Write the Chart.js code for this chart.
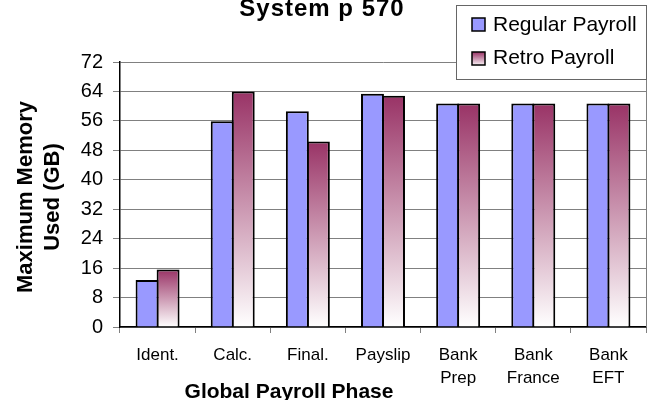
<!DOCTYPE html>
<html>
<head>
<meta charset="utf-8">
<script src="https://cdn.jsdelivr.net/npm/chart.js@4/dist/chart.umd.min.js"></script>
<style>
  html, body { margin: 0; padding: 0; background: #fff; }
  #wrap { width: 651px; height: 400px; }
</style>
</head>
<body>
<div id="wrap"><canvas id="memChart" width="651" height="400"></canvas></div>
<script>
// chart data
const phases = [['Ident.'], ['Calc.'], ['Final.'], ['Payslip'], ['Bank', 'Prep'], ['Bank', 'France'], ['Bank', 'EFT']];
const regularPayroll = [12.8, 55.9, 58.6, 63.4, 60.7, 60.7, 60.7];
const retroPayroll = [15.6, 64.0, 50.4, 62.8, 60.7, 60.7, 60.7];
const yTicks = [0, 8, 16, 24, 32, 40, 48, 56, 64, 72];

const FONT = '"Liberation Sans", Arial, sans-serif';
const REGULAR_COLOR = '#9999FF';
const RETRO_TOP = '#993366';

function retroGradient(c, top, bottom) {
  const g = c.createLinearGradient(0, top, 0, bottom);
  g.addColorStop(0, RETRO_TOP);
  g.addColorStop(1, '#FFFFFF');
  return g;
}

// title, axis titles, plot border and the legend box drawn on the canvas
const decorPlugin = {
  id: 'decor',
  afterDraw(chart) {
    const c = chart.ctx;
    const area = chart.chartArea;
    c.save();

    // right border of the plot area
    c.strokeStyle = '#808080';
    c.lineWidth = 1;
    c.beginPath();
    c.moveTo(area.right + 0.5, area.top);
    c.lineTo(area.right + 0.5, area.bottom);
    c.stroke();

    c.fillStyle = '#000';
    c.textAlign = 'center';
    c.textBaseline = 'alphabetic';

    // chart title
    c.font = 'bold 24px ' + FONT;
    c.letterSpacing = '1px';
    c.fillText('System p 570', 322, 16);

    // x title
    c.font = 'bold 21px ' + FONT;
    c.letterSpacing = '0px';
    c.fillText('Global Payroll Phase', 289, 398);

    // y title, two lines
    c.save();
    c.translate(0, 197);
    c.rotate(-Math.PI / 2);
    c.font = 'bold 22px ' + FONT;
    c.fillText('Maximum Memory', 0, 32);
    c.fillText('Used (GB)', 0, 59);
    c.restore();

    // legend
    const lx = 456, ly = 5, lw = 190, lh = 74;
    c.fillStyle = '#fff';
    c.fillRect(lx, ly, lw, lh);
    c.strokeStyle = '#666';
    c.lineWidth = 1;
    c.strokeRect(lx + 0.5, ly + 0.5, lw, lh);

    c.lineWidth = 1.5;
    c.strokeStyle = '#000';
    c.fillStyle = REGULAR_COLOR;
    c.fillRect(472, 18, 13, 13);
    c.strokeRect(472, 18, 13, 13);

    c.fillStyle = retroGradient(c, 52, 66);
    c.fillRect(472, 52, 13, 13);
    c.strokeRect(472, 52, 13, 13);

    c.fillStyle = '#000';
    c.textAlign = 'left';
    c.font = '21px ' + FONT;
    c.fillText('Regular Payroll', 493, 31);
    c.fillText('Retro Payroll', 493, 64);

    c.restore();
  }
};

new Chart(document.getElementById('memChart'), {
  type: 'bar',
  data: {
    labels: phases,
    datasets: [
      {
        label: 'Regular Payroll',
        data: regularPayroll,
        backgroundColor: REGULAR_COLOR,
        borderColor: '#000',
        borderWidth: 2
      },
      {
        label: 'Retro Payroll',
        data: retroPayroll,
        backgroundColor: (ctx) => {
          const chart = ctx.chart;
          if (!chart.chartArea || ctx.type !== 'data') return RETRO_TOP;
          const y = chart.scales.y;
          return retroGradient(chart.ctx, y.getPixelForValue(ctx.parsed.y), y.getPixelForValue(0));
        },
        borderColor: '#000',
        borderWidth: 2
      }
    ]
  },
  options: {
    responsive: false,
    animation: false,
    layout: { padding: { top: 62, right: 5, left: 0, bottom: 0 } },
    datasets: {
      bar: { categoryPercentage: 0.56, barPercentage: 1.09 }
    },
    plugins: {
      legend: { display: false },
      title: { display: false },
      tooltip: { enabled: false }
    },
    scales: {
      x: {
        offset: true,
        border: { display: true, color: '#000', width: 1.5 },
        grid: {
          display: true,
          offset: true,
          drawOnChartArea: false,
          tickLength: 6,
          color: '#808080'
        },
        ticks: {
          color: '#000',
          padding: 11,
          maxRotation: 0,
          autoSkip: false,
          font: { family: FONT, size: 17, lineHeight: 1.35 }
        },
        afterFit(scale) { scale.height = 73; }
      },
      y: {
        min: 0,
        max: 72,
        afterBuildTicks(scale) { scale.ticks = yTicks.map(v => ({ value: v })); },
        border: { display: true, color: '#000', width: 1.5 },
        grid: { color: '#808080', tickLength: 7, lineWidth: 1 },
        ticks: {
          color: '#000',
          padding: 10,
          font: { family: FONT, size: 20 }
        },
        afterFit(scale) { scale.width = 120; }
      }
    }
  },
  plugins: [decorPlugin]
});
</script>
</body>
</html>
